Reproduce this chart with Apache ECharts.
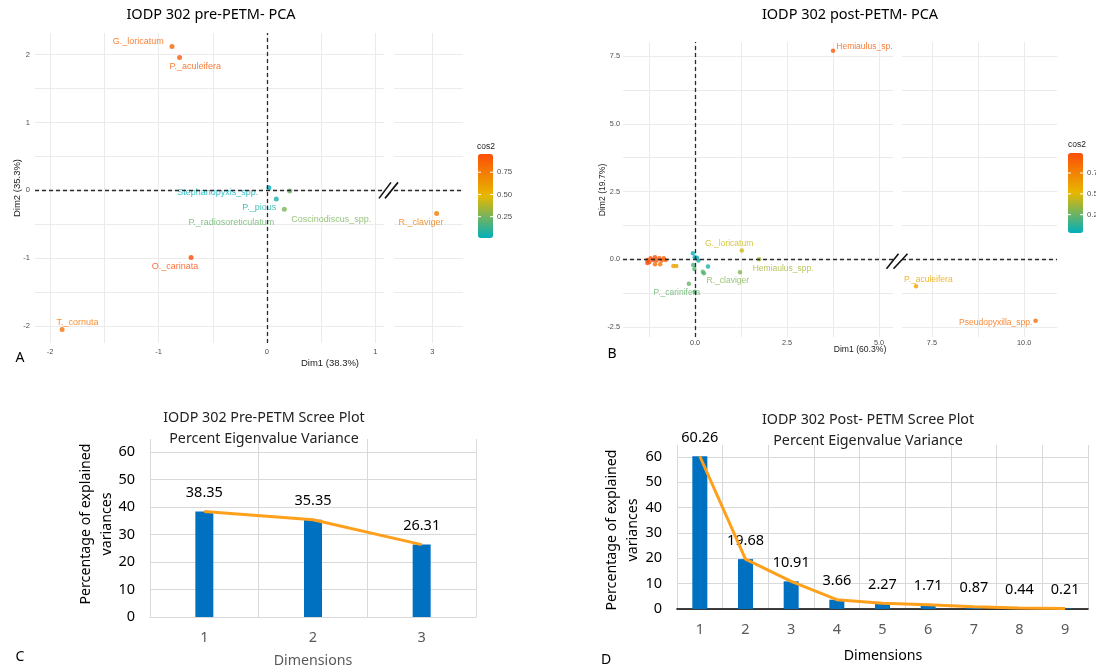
<!DOCTYPE html>
<html><head><meta charset="utf-8">
<script src="https://cdn.jsdelivr.net/npm/echarts@6/dist/echarts.min.js"></script>
<style>html,body{margin:0;padding:0;background:#fff}#c{width:1096px;height:670px}</style>
</head><body><div id="c"></div>
<script>
// ================= DATA =================
// Panel A: IODP 302 pre-PETM PCA (Dim1, Dim2, cos2)
const preNames = ['G._loricatum','P._aculeifera','Stephanopyxis_spp.','P._pious','P._radiosoreticulatum','Coscinodiscus_spp.','O._carinata','T._cornuta','R._claviger'];
const preDim1  = [-0.876, -0.806, 0.018, 0.086, 0.21, 0.16, -0.70, -1.89, 3.04];
const preDim2  = [2.12, 1.96, 0.04, -0.127, -0.01, -0.28, -0.99, -2.05, -0.34];
const preCos2  = [0.86, 0.90, 0.01, 0.06, 0.22, 0.26, 0.955, 0.78, 0.76];

// Panel B: IODP 302 post-PETM PCA ('' = unlabelled point)
const postNames = ['Hemiaulus_sp.','G._loricatum','Hemiaulus_spp.','R._claviger','P._carinifera','P._aculeifera','Pseudopyxilla_spp.',
  '','','','','','','','','','','','','','','',
  '','','','','','','','','',''];
const postDim1 = [3.75, 1.27, 1.74, 1.22, -0.17, 7.07, 10.31,
  -1.30, -1.25, -1.21, -1.14, -1.09, -1.05, -0.97, -0.91, -0.85, -0.80, -1.30, -1.09, -0.95, -0.59, -0.51,
  -0.06, -0.01, 0.05, 0.09, -0.05, -0.02, 0.21, 0.35, 0.24, -0.01];
const postDim2 = [7.70, 0.32, 0.00, -0.48, -0.90, -1.00, -2.27,
  -0.03, -0.11, 0.04, -0.03, 0.07, -0.05, 0.04, -0.05, 0.04, -0.03, -0.14, -0.18, -0.18, -0.25, -0.25,
  0.22, 0.07, 0.06, -0.05, -0.21, -0.36, -0.46, -0.27, -0.52, -1.20];
const postCos2 = [0.93, 0.45, 0.38, 0.30, 0.24, 0.60, 0.85,
  0.98, 0.97, 0.99, 0.98, 0.96, 0.97, 0.95, 0.93, 0.90, 0.88, 0.99, 0.85, 0.82, 0.62, 0.60,
  0.05, 0.03, 0.04, 0.06, 0.18, 0.22, 0.24, 0.08, 0.20, 0.20];

// Axis tick / gridline values
const aXTicksL = [-2, -1, 0, 1];         const aXGridL = [-2, -1.5, -1, -0.5, 0, 0.5, 1];
const aXTicksR = [3];                    const aXGridR = [3];
const aYTicks  = [-2, -1, 0, 1, 2];      const aYGrid  = [-2, -1.5, -1, -0.5, 0, 0.5, 1, 1.5, 2];
const bXTicksL = [0, 2.5, 5];            const bXGridL = [-1.25, 0, 1.25, 2.5, 3.75, 5];
const bXTicksR = [7.5, 10];              const bXGridR = [7.5, 8.75, 10];
const bYTicks  = [-2.5, 0, 2.5, 5, 7.5]; const bYGrid  = [-2.5, -1.25, 0, 1.25, 2.5, 3.75, 5, 6.25, 7.5];
const cosTicks = [0.25, 0.5, 0.75];

// Panels C & D: scree plots
const preDims  = ['1', '2', '3'];
const preVar   = [38.35, 35.35, 26.31];
const postDims = ['1', '2', '3', '4', '5', '6', '7', '8', '9'];
const postVar  = [60.26, 19.68, 10.91, 3.66, 2.27, 1.71, 0.87, 0.44, 0.21];
const screeTicks = [0, 10, 20, 30, 40, 50, 60];

// ================= LAYOUT / STYLE =================
const G = {
  A1: {left: 35,  top: 33,  width: 349, height: 310},
  A2: {left: 394, top: 33,  width: 69,  height: 310},
  B1: {left: 623, top: 42,  width: 270, height: 295},
  B2: {left: 902, top: 42,  width: 155, height: 295},
  C:  {left: 150, top: 439, width: 326, height: 178},
  D:  {left: 677, top: 445, width: 411, height: 164}
};
const EXT = {
  aX1: [-2.14, 1.08], aX2: [2.647, 3.283], aY: [-2.25, 2.32],
  bX1: [-1.96, 5.38], bX2: [6.69, 10.89], bY: [-2.87, 8.02],
  scree: [0, 64.7]
};
// label centre offset relative to symbol's box top-left (style only)
const labelPosA = {
  'G._loricatum': [-31.2, -2.8], 'P._aculeifera': [18.2, 11.5], 'Stephanopyxis_spp.': [-48.7, 7.5],
  'P._pious': [-14.5, 11.2], 'P._radiosoreticulatum': [-55.8, 33.8], 'Coscinodiscus_spp.': [49.5, 12.5],
  'O._carinata': [-13.5, 11.9], 'T._cornuta': [18, -4.8], 'R._claviger': [-13.2, 11.5]
};
const labelPosB = {
  'Hemiaulus_sp.': [33.6, -1.7], 'G._loricatum': [-10.4, -4.4], 'Hemiaulus_spp.': [26.3, 11.7],
  'R._claviger': [-9.9, 11], 'P._carinifera': [-9.7, 11.3], 'P._aculeifera': [14.6, -4], 'Pseudopyxilla_spp.': [-37.6, 3.9]
};
const COS_COLORS = ['#00AFBB', '#E7B800', '#FC4E07'];
const GG_FONT = 'Liberation Sans';
const XL_FONT = 'Noto Sans';

function pcaSeries(names, xs, ys, cs, idx, keep, lpos, fs, sz, vline) {
  const data = [];
  names.forEach((n, i) => {
    if (!keep(xs[i])) return;
    const p = lpos[n];
    data.push({
      name: n, value: [xs[i], ys[i], cs[i]],
      label: p ? {show: true, position: p, align: 'center', verticalAlign: 'middle'} : {show: false}
    });
  });
  const ml = [{yAxis: 0}];
  if (vline) ml.push({xAxis: 0});
  return {
    type: 'scatter', xAxisIndex: idx, yAxisIndex: idx, symbolSize: sz, data,
    label: {show: false, formatter: '{b}', fontSize: fs, fontFamily: GG_FONT, color: 'inherit', opacity: 0.8},
    markLine: {silent: true, symbol: ['none', 'none'], label: {show: false}, animation: false,
      lineStyle: {type: [4, 3], color: '#2b2b2b', width: 1.3}, data: ml},
    z: 3
  };
}
function valAxis(idx, ext, gridVals, labelVals, fmt, showLabels, fs, margin) {
  return {
    type: 'value', gridIndex: idx, min: ext[0], max: ext[1], scale: true,
    axisLine: {show: false},
    axisTick: {show: false, customValues: gridVals},
    axisLabel: {show: showLabels, customValues: labelVals, formatter: fmt, fontSize: fs, color: '#4d4d4d', margin, fontFamily: GG_FONT},
    splitLine: {show: true, lineStyle: {color: '#ebebeb', width: 1}}
  };
}
const fmtA = v => String(v);
const fmtB = v => Number(v).toFixed(1);

function catAxis(idx, cats, axisColor, axisWidth) {
  return {
    type: 'category', gridIndex: idx, data: cats, boundaryGap: true,
    axisLine: {show: true, lineStyle: {color: axisColor, width: axisWidth}},
    axisTick: {show: false},
    axisLabel: {color: '#595959', fontSize: 14.5, margin: 13, fontFamily: XL_FONT},
    splitLine: {show: true, lineStyle: {color: '#d9d9d9', width: 1}}
  };
}
function pctAxis(idx) {
  return {
    type: 'value', gridIndex: idx, min: EXT.scree[0], max: EXT.scree[1],
    axisLine: {show: false},
    axisTick: {show: false, customValues: screeTicks},
    axisLabel: {customValues: screeTicks, color: '#000', fontSize: 14.5, margin: 15, fontFamily: XL_FONT},
    splitLine: {show: true, lineStyle: {color: '#d9d9d9', width: 1}}
  };
}
function barSeries(idx, vals, w) {
  return {
    type: 'bar', xAxisIndex: idx, yAxisIndex: idx, data: vals, barWidth: w,
    itemStyle: {color: '#0070C0'},
    label: {show: true, position: 'top', distance: 11, fontSize: 14.5, color: '#000', fontFamily: XL_FONT,
      formatter: p => Number(p.value).toFixed(2)},
    z: 2
  };
}
function lineSeries(idx, vals) {
  return {type: 'line', xAxisIndex: idx, yAxisIndex: idx, data: vals, symbol: 'none',
    lineStyle: {color: '#FFA01C', width: 3}, z: 4};
}

const cosMinA = Math.min(...preCos2), cosMaxA = Math.max(...preCos2);
const cosMinB = Math.min(...postCos2), cosMaxB = Math.max(...postCos2);
const LEG = {
  A: {left: 478, top: 154, w: 15, h: 84, min: cosMinA, max: cosMaxA, title: [477, 147]},
  B: {left: 1068, top: 153, w: 15, h: 80, min: cosMinB, max: cosMaxB, title: [1068, 145]}
};

function yPix(g, ext, v) { return g.top + (ext[1] - v) / (ext[1] - ext[0]) * g.height; }

const graphics = [];
function txt(x, y, text, font, fill, align, rot) {
  graphics.push({type: 'text', x, y, rotation: rot || 0, silent: true,
    style: {text, font, fill: fill || '#000', align: align || 'center', verticalAlign: 'middle'}});
}
function seg(x1, y1, x2, y2, stroke, w) {
  graphics.push({type: 'line', silent: true, shape: {x1, y1, x2, y2}, style: {stroke, lineWidth: w}, z: 100});
}
// titles
txt(211, 15, 'IODP 302 pre-PETM- PCA', '14.5px "Noto Sans"');
txt(850, 15, 'IODP 302 post-PETM- PCA', '14.5px "Noto Sans"');
txt(264, 418, 'IODP 302 Pre-PETM Scree Plot', '14.3px "Noto Sans"', '#222');
txt(264, 439, 'Percent Eigenvalue Variance', '14.3px "Noto Sans"', '#222');
txt(868, 420, 'IODP 302 Post- PETM Scree Plot', '14.3px "Noto Sans"', '#222');
txt(868, 441, 'Percent Eigenvalue Variance', '14.3px "Noto Sans"', '#222');
// panel letters
txt(20, 358, 'A', '14px "Noto Sans"');
txt(612, 354, 'B', '14px "Noto Sans"');
txt(20, 657, 'C', '14px "Noto Sans"');
txt(606, 660, 'D', '14px "Noto Sans"');
// PCA axis names
txt(330, 363, 'Dim1 (38.3%)', '9.5px "Liberation Sans"', '#222');
txt(17, 188, 'Dim2 (35.3%)', '9.5px "Liberation Sans"', '#222', 'center', Math.PI / 2);
txt(860, 350, 'Dim1 (60.3%)', '8.6px "Liberation Sans"', '#222');
txt(603, 190, 'Dim2 (19.7%)', '8.6px "Liberation Sans"', '#222', 'center', Math.PI / 2);
// scree axis names
txt(86, 524, 'Percentage of explained', '14.2px "Noto Sans"', '#000', 'center', Math.PI / 2);
txt(107, 524, 'variances', '14.2px "Noto Sans"', '#000', 'center', Math.PI / 2);
txt(313, 661, 'Dimensions', '14.2px "Noto Sans"', '#595959');
txt(612, 530, 'Percentage of explained', '14.2px "Noto Sans"', '#000', 'center', Math.PI / 2);
txt(633, 530, 'variances', '14.2px "Noto Sans"', '#000', 'center', Math.PI / 2);
txt(883, 656, 'Dimensions', '14.2px "Noto Sans"', '#000');
// colour bar legends
['A', 'B'].forEach(k => {
  const L = LEG[k];
  txt(L.title[0], L.title[1], 'cos2', '8.5px "Liberation Sans"', '#222', 'left');
  cosTicks.forEach(v => {
    const y = L.top + (L.max - v) / (L.max - L.min) * L.h;
    txt(L.left + L.w + 4, y, v.toFixed(2), '7.8px "Liberation Sans"', '#4d4d4d', 'left');
    seg(L.left, y, L.left + 3, y, '#fff', 1);
    seg(L.left + L.w - 3, y, L.left + L.w, y, '#fff', 1);
  });
});
// axis break marks
(function () {
  const ay = yPix(G.A1, EXT.aY, 0), ax = (G.A1.left + G.A1.width + G.A2.left) / 2;
  seg(ax - 10, ay + 8, ax + 2, ay - 8, '#111', 1.6);
  seg(ax - 4, ay + 8, ax + 9, ay - 8, '#111', 1.6);
  const by = yPix(G.B1, EXT.bY, 0) + 2, bx = (G.B1.left + G.B1.width + G.B2.left) / 2;
  seg(bx - 11, by + 7.5, bx + 1, by - 7.5, '#111', 1.6);
  seg(bx - 4, by + 7.5, bx + 10, by - 7.5, '#111', 1.6);
})();

const option = {
  animation: false,
  backgroundColor: '#fff',
  textStyle: {fontFamily: GG_FONT},
  grid: [G.A1, G.A2, G.B1, G.B2, G.C, G.D].map(g => Object.assign({containLabel: false}, g)),
  xAxis: [
    valAxis(0, EXT.aX1, aXGridL, aXTicksL, fmtA, true, 7.5, 5),
    valAxis(1, EXT.aX2, aXGridR, aXTicksR, fmtA, true, 7.5, 5),
    valAxis(2, EXT.bX1, bXGridL, bXTicksL, fmtB, true, 7.3, 2),
    valAxis(3, EXT.bX2, bXGridR, bXTicksR, fmtB, true, 7.3, 2),
    catAxis(4, preDims, '#d9d9d9', 1),
    catAxis(5, postDims, '#000', 1.6)
  ],
  yAxis: [
    valAxis(0, EXT.aY, aYGrid, aYTicks, fmtA, true, 7.5, 5),
    valAxis(1, EXT.aY, aYGrid, aYTicks, fmtA, false, 7.5, 5),
    valAxis(2, EXT.bY, bYGrid, bYTicks, fmtB, true, 7.3, 3),
    valAxis(3, EXT.bY, bYGrid, bYTicks, fmtB, false, 7.3, 3),
    pctAxis(4),
    pctAxis(5)
  ],
  visualMap: [
    {type: 'continuous', seriesIndex: [0, 1], dimension: 2, min: cosMinA, max: cosMaxA,
     inRange: {color: COS_COLORS}, left: LEG.A.left, top: LEG.A.top, itemWidth: LEG.A.w, itemHeight: LEG.A.h,
     calculable: false, padding: 0, text: null, hoverLink: false},
    {type: 'continuous', seriesIndex: [2, 3], dimension: 2, min: cosMinB, max: cosMaxB,
     inRange: {color: COS_COLORS}, left: LEG.B.left, top: LEG.B.top, itemWidth: LEG.B.w, itemHeight: LEG.B.h,
     calculable: false, padding: 0, text: null, hoverLink: false}
  ],
  series: [
    pcaSeries(preNames, preDim1, preDim2, preCos2, 0, x => x <= EXT.aX1[1], labelPosA, 9, 5, true),
    pcaSeries(preNames, preDim1, preDim2, preCos2, 1, x => x >= EXT.aX2[0], labelPosA, 9, 5, false),
    pcaSeries(postNames, postDim1, postDim2, postCos2, 2, x => x <= EXT.bX1[1], labelPosB, 8.5, 4.5, true),
    pcaSeries(postNames, postDim1, postDim2, postCos2, 3, x => x >= EXT.bX2[0], labelPosB, 8.5, 4.5, false),
    barSeries(4, preVar, 18),
    lineSeries(4, preVar),
    barSeries(5, postVar, 15),
    lineSeries(5, postVar)
  ],
  graphic: graphics
};
const chart = echarts.init(document.getElementById('c'), null, {renderer: 'canvas'});
chart.setOption(option);
</script>
</body></html>
